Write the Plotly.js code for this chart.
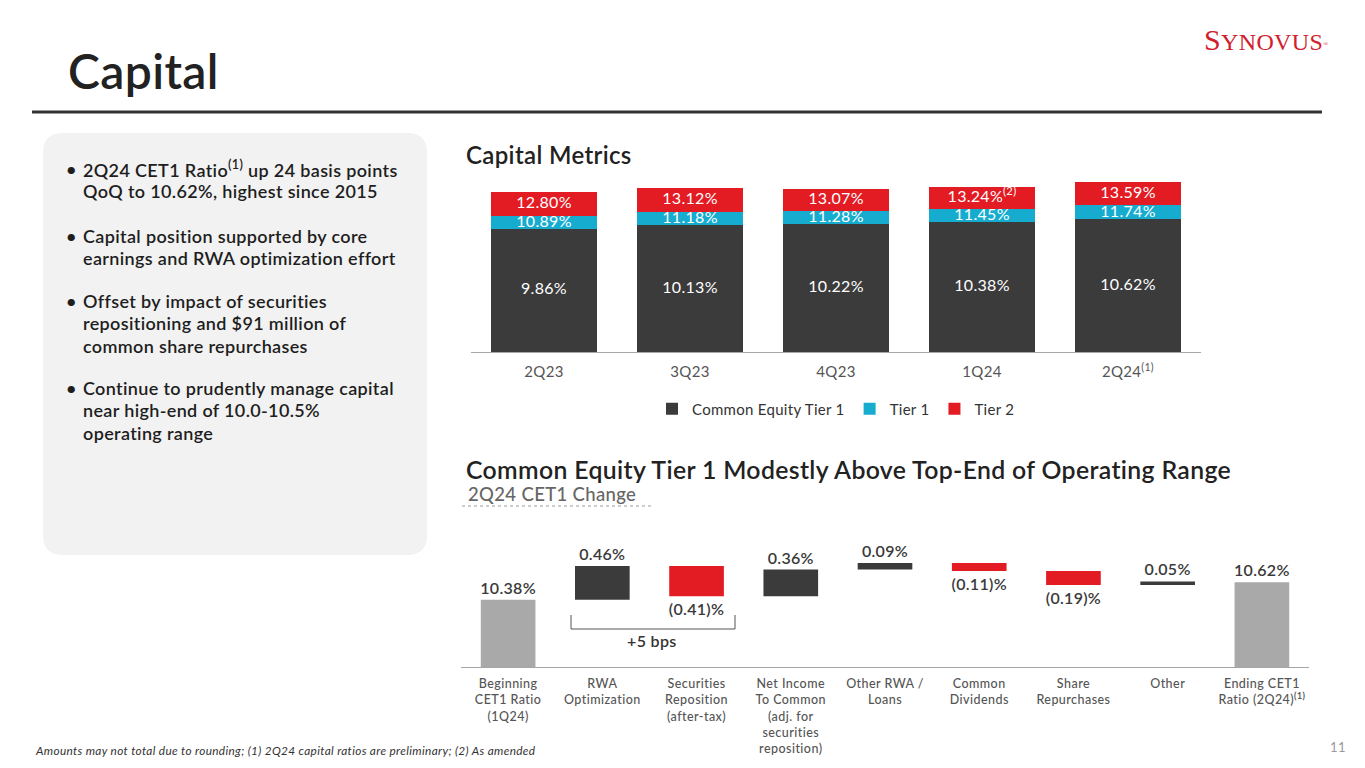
<!DOCTYPE html>
<html>
<head>
<meta charset="utf-8">
<script src="https://cdn.plot.ly/plotly-3.0.1.min.js"></script>
<style>
  html, body { margin: 0; padding: 0; background: #ffffff; }
  #chart { width: 1365px; height: 768px; }
  .annotation-text { letter-spacing: 0.35px; }
  .xtick text, .legendtext, .textpoint text, .point text { letter-spacing: 0.3px; }
  .x2tick text { letter-spacing: 0.45px; }
</style>
</head>
<body>
<div id="chart"></div>
<script>
// ---------- Data ----------
const quarters = ['2Q23', '3Q23', '4Q23', '1Q24', '2Q24'];
const quarterNotes = ['', '', '', '', '(1)'];
const cet1Ratio = [9.86, 10.13, 10.22, 10.38, 10.62];
const tier1Ratio = [10.89, 11.18, 11.28, 11.45, 11.74];
const tier2Ratio = [12.80, 13.12, 13.07, 13.24, 13.59];
const tier2Notes = ['', '', '', '(2)', ''];
const seriesNames = ['Common Equity Tier 1', 'Tier 1', 'Tier 2'];

const steps = [
  'Beginning<br>CET1 Ratio<br>(1Q24)',
  'RWA<br>Optimization',
  'Securities<br>Reposition<br>(after-tax)',
  'Net Income<br>To Common<br>(adj. for<br>securities<br>reposition)',
  'Other RWA /<br>Loans',
  'Common<br>Dividends',
  'Share<br>Repurchases',
  'Other',
  'Ending CET1<br>Ratio (2Q24)<sup><b>(1)</b></sup>'
];
const stepValues = [10.38, 0.46, -0.41, 0.36, 0.09, -0.11, -0.19, 0.05, 10.62];
const stepMeasures = ['absolute', 'relative', 'relative', 'relative', 'relative', 'relative', 'relative', 'relative', 'absolute'];

// ---------- Styles ----------
const FONT = 'Lato, "Open Sans", sans-serif';
const C_DARK = '#3b3b3b';
const C_CYAN = '#16acd0';
const C_RED = '#e31b23';
const C_GRAY = '#a9a9a9';
const W = 1365, H = 768;
const px = v => v / W;
const py = v => 1 - v / H;

const pct = v => v.toFixed(2) + '%';
const wfText = v => v < 0 ? '(' + Math.abs(v).toFixed(2) + ')%' : v.toFixed(2) + '%';

// ---------- Top stacked chart ----------
const tier1Inc = tier1Ratio.map((v, i) => +(v - cet1Ratio[i]).toFixed(2));
const tier2Inc = tier2Ratio.map((v, i) => +(v - tier1Ratio[i]).toFixed(2));

const barCommon = { type: 'bar', xaxis: 'x', yaxis: 'y', hoverinfo: 'skip' };
const labelFont = { family: FONT, size: 16, color: '#ffffff' };
const traces = [
  Object.assign({}, barCommon, { name: seriesNames[0], x: quarters, y: cet1Ratio, marker: { color: C_DARK } }),
  Object.assign({}, barCommon, { name: seriesNames[1], x: quarters, y: tier1Inc, marker: { color: C_CYAN } }),
  Object.assign({}, barCommon, { name: seriesNames[2], x: quarters, y: tier2Inc, marker: { color: C_RED } }),
  {
    type: 'scatter', mode: 'text', xaxis: 'x', yaxis: 'y', showlegend: false, hoverinfo: 'skip',
    x: quarters, y: cet1Ratio.map(v => v / 2), text: cet1Ratio.map(pct),
    textfont: labelFont, cliponaxis: false
  },
  {
    type: 'scatter', mode: 'text', xaxis: 'x', yaxis: 'y', showlegend: false, hoverinfo: 'skip',
    x: quarters, y: cet1Ratio.map((v, i) => (v + tier1Ratio[i]) / 2 - 0.04), text: tier1Ratio.map(pct),
    textfont: labelFont, cliponaxis: false
  },
  {
    type: 'scatter', mode: 'text', xaxis: 'x', yaxis: 'y', showlegend: false, hoverinfo: 'skip',
    x: quarters, y: tier1Ratio.map((v, i) => (v + tier2Ratio[i]) / 2),
    text: tier2Ratio.map((v, i) => pct(v) + (tier2Notes[i] ? '<sup>' + tier2Notes[i] + '</sup>' : '')),
    textfont: labelFont, cliponaxis: false
  },
  // ---------- Waterfall ----------
  {
    type: 'waterfall', xaxis: 'x2', yaxis: 'y2', showlegend: false, hoverinfo: 'skip',
    x: steps, y: stepValues, measure: stepMeasures,
    text: stepValues.map(wfText), textposition: 'outside', cliponaxis: false,
    textfont: { family: FONT, size: 16, color: '#3a3a3a', weight: 600 },
    increasing: { marker: { color: C_DARK } },
    decreasing: { marker: { color: C_RED } },
    totals: { marker: { color: C_GRAY } },
    connector: { visible: false }
  }
];

const P = { xref: 'paper', yref: 'paper', showarrow: false };
const annotations = [
  Object.assign({ text: 'Capital', x: px(66), y: py(70), xanchor: 'left', yanchor: 'middle',
    font: { family: FONT, size: 48, color: '#222222', weight: 600 } }, P),
  Object.assign({ text: '<span style="font-size:30px">S</span>YNOVUS<span style="font-size:9px"><sup>®</sup></span>', x: px(1202), y: py(39), xanchor: 'left', yanchor: 'middle',
    font: { family: '"Liberation Serif", "DejaVu Serif", serif', size: 24, color: '#d0202e' } }, P),
  Object.assign({ text: 'Capital Metrics', x: px(464), y: py(155), xanchor: 'left', yanchor: 'middle',
    font: { family: FONT, size: 24, color: '#222222', weight: 600 } }, P),
  Object.assign({ text: 'Common Equity Tier 1 Modestly Above Top-End of Operating Range', x: px(464), y: py(469), xanchor: 'left', yanchor: 'middle',
    font: { family: FONT, size: 24.8, color: '#222222', weight: 600 } }, P),
  Object.assign({ text: '2Q24 CET1 Change', x: px(466), y: py(494), xanchor: 'left', yanchor: 'middle',
    font: { family: FONT, size: 18.5, color: '#666666', weight: 500 } }, P),
  Object.assign({ text: '+5 bps', x: px(652), y: py(640), xanchor: 'center', yanchor: 'middle',
    font: { family: FONT, size: 16, color: '#333333', weight: 600 } }, P),
  Object.assign({ text: 'Amounts may not total due to rounding; (1) 2Q24 capital ratios are preliminary; (2) As amended', x: px(33), y: py(750), xanchor: 'left', yanchor: 'middle',
    font: { family: FONT, size: 11.8, color: '#333333', style: 'italic' } }, P),
  Object.assign({ text: '11', x: px(1348), y: py(747), xanchor: 'right', yanchor: 'middle',
    font: { family: FONT, size: 13, color: '#9a9a9a' } }, P)
];

const bullets = [
  { lines: ['2Q24 CET1 Ratio<sup>(1)</sup> up 24 basis points', 'QoQ to 10.62%, highest since 2015'], y: 169 },
  { lines: ['Capital position supported by core', 'earnings and RWA optimization effort'], y: 236 },
  { lines: ['Offset by impact of securities', 'repositioning and $91 million of', 'common share repurchases'], y: 301 },
  { lines: ['Continue to prudently manage capital', 'near high-end of 10.0-10.5%', 'operating range'], y: 388 }
];
bullets.forEach(b => {
  annotations.push(Object.assign({ text: '•', x: px(64), y: py(b.y), xanchor: 'left', yanchor: 'middle',
    font: { family: FONT, size: 18, color: '#1e1e1e', weight: 600 } }, P));
  b.lines.forEach((ln, i) => {
    annotations.push(Object.assign({ text: ln, x: px(81), y: py(b.y + i * 22.3), xanchor: 'left', yanchor: 'middle',
      font: { family: FONT, size: 18, color: '#1e1e1e', weight: 600 } }, P));
  });
});

const r = 20;
const panel = { x0: 43, x1: 427, y0: 133, y1: 555 };
const panelPath = [
  'M', px(panel.x0 + r), py(panel.y0),
  'L', px(panel.x1 - r), py(panel.y0),
  'Q', px(panel.x1), py(panel.y0), px(panel.x1), py(panel.y0 + r),
  'L', px(panel.x1), py(panel.y1 - r),
  'Q', px(panel.x1), py(panel.y1), px(panel.x1 - r), py(panel.y1),
  'L', px(panel.x0 + r), py(panel.y1),
  'Q', px(panel.x0), py(panel.y1), px(panel.x0), py(panel.y1 - r),
  'L', px(panel.x0), py(panel.y0 + r),
  'Q', px(panel.x0), py(panel.y0), px(panel.x0 + r), py(panel.y0), 'Z'
].join(' ');

const shapes = [
  { type: 'path', xref: 'paper', yref: 'paper', path: panelPath, fillcolor: '#f2f2f2', line: { width: 0 }, layer: 'below' },
  { type: 'line', xref: 'paper', yref: 'paper', x0: px(32), x1: px(1322), y0: py(112), y1: py(112), line: { color: '#333333', width: 3 } },
  { type: 'line', xref: 'paper', yref: 'paper', x0: px(462), x1: px(652), y0: py(506), y1: py(506), line: { color: '#9a9a9a', width: 1, dash: 'dot' } },
  { type: 'path', xref: 'paper', yref: 'paper',
    path: ['M', px(571), py(615), 'L', px(571), py(629), 'L', px(735), py(629), 'L', px(735), py(615)].join(' '),
    line: { color: '#555555', width: 1 } }
];

const layout = {
  width: W, height: H,
  margin: { l: 0, r: 0, t: 0, b: 0 },
  paper_bgcolor: '#ffffff', plot_bgcolor: 'rgba(0,0,0,0)',
  font: { family: FONT, color: '#333333' },
  barmode: 'stack', bargap: 0.27,
  waterfallgap: 0.42,
  showlegend: true,
  legend: { orientation: 'h', x: px(836), xanchor: 'center', y: py(409), yanchor: 'middle',
    itemwidth: 30, font: { family: FONT, size: 15, color: '#333333' }, traceorder: 'normal', itemclick: false },
  xaxis: { domain: [px(471), px(1201)], anchor: 'y', type: 'category',
    tickvals: quarters, ticktext: quarters.map((q, i) => q + (quarterNotes[i] ? '<sup>' + quarterNotes[i] + '</sup>' : '')),
    showline: true, linecolor: '#a6a6a6', linewidth: 1, ticks: '', showgrid: false, ticklabelstandoff: 6,
    tickfont: { family: FONT, size: 15, color: '#555555' } },
  yaxis: { domain: [py(352), py(177)], anchor: 'x', range: [0, 14], visible: false, showgrid: false, zeroline: false },
  xaxis2: { domain: [px(461), px(1309)], anchor: 'y2', type: 'category',
    showline: true, linecolor: '#a6a6a6', linewidth: 1, ticks: '', showgrid: false, ticklabelstandoff: 5,
    tickfont: { family: FONT, size: 12.5, color: '#555555', weight: 500 } },
  yaxis2: { domain: [py(667), py(532)], anchor: 'x2', range: [9.47, 11.3], visible: false, showgrid: false, zeroline: false },
  annotations: annotations,
  shapes: shapes
};

Plotly.newPlot('chart', traces, layout, { staticPlot: true, displayModeBar: false });
</script>
</body>
</html>
